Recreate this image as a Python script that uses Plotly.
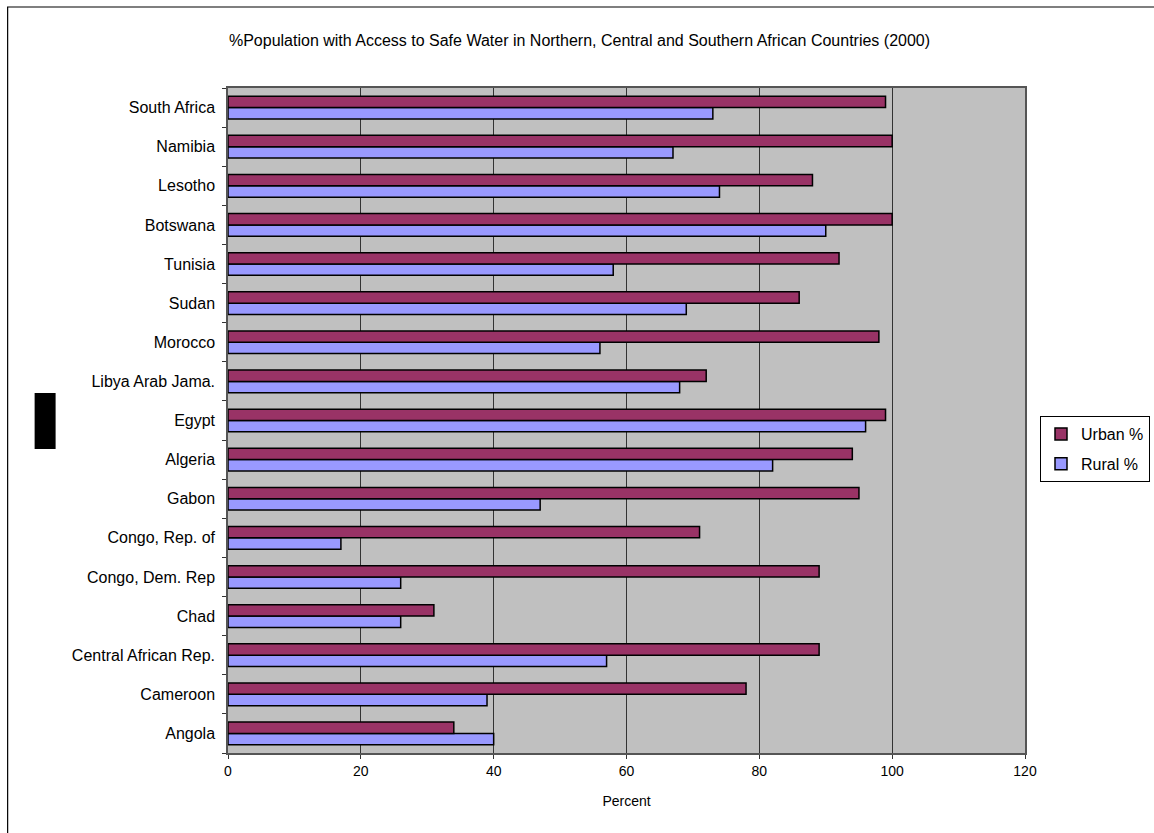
import plotly.graph_objects as go

countries = ["Angola", "Cameroon", "Central African Rep.", "Chad", "Congo, Dem. Rep",
             "Congo, Rep. of", "Gabon", "Algeria", "Egypt", "Libya Arab Jama.",
             "Morocco", "Sudan", "Tunisia", "Botswana", "Lesotho", "Namibia", "South Africa"]
urban = [34, 78, 89, 31, 89, 71, 95, 94, 99, 72, 98, 86, 92, 100, 88, 100, 99]
rural = [40, 39, 57, 26, 26, 17, 47, 82, 96, 68, 56, 69, 58, 90, 74, 67, 73]
x_ticks = [0, 20, 40, 60, 80, 100, 120]

W, H = 1154, 833
L, R, T, B = 227.5, 1025, 88, 753
pw, ph = R - L, B - T

def px(x):
    return (x - L) / pw

def py(y):
    return (B - y) / ph

FONT = "Liberation Sans, Arial, sans-serif"

fig = go.Figure()
fig.add_trace(go.Bar(y=countries, x=rural, orientation="h", name="Rural %", legendgroup="r",
                     legendrank=2,
                     marker=dict(color="#9999FF", line=dict(color="black", width=1.5))))
fig.add_trace(go.Bar(y=countries, x=urban, orientation="h", name="Urban %", legendgroup="u",
                     legendrank=1,
                     marker=dict(color="#993366", line=dict(color="black", width=1.5))))

fig.update_layout(
    width=W, height=H,
    margin=dict(l=L, r=W - R, t=T, b=H - B, pad=0, autoexpand=False),
    paper_bgcolor="white", plot_bgcolor="#C0C0C0",
    barmode="group", bargap=0.42, bargroupgap=0,
    font=dict(family=FONT, size=15, color="black"),
    title=dict(text="%Population with Access to Safe Water in Northern, Central and Southern African Countries (2000)",
               x=579.5 / W, xanchor="center", xref="container",
               y=1 - 40 / H, yanchor="middle", yref="container",
               font=dict(family=FONT, size=16, color="black")),
    legend=dict(x=1150 / W, y=1 - 416 / H, xref="container", yref="container",
                xanchor="right", yanchor="top",
                traceorder="grouped", bordercolor="black", borderwidth=1,
                bgcolor="white", font=dict(family=FONT, size=16),
                itemwidth=30, tracegroupgap=6),
    showlegend=True,
)

fig.update_xaxes(range=[0, 120], tickvals=x_ticks, ticktext=[str(v) for v in x_ticks],
                 showgrid=True, gridcolor="#333333", gridwidth=1,
                 ticks="outside", ticklen=4, tickcolor="#333333",
                 tickfont=dict(family=FONT, size=14),
                 showline=True, linecolor="#555555", linewidth=1.5, mirror=True,
                 zeroline=False, automargin=False,
                 title=dict(text="Percent", font=dict(family=FONT, size=14), standoff=19))
fig.update_yaxes(categoryorder="array", categoryarray=countries,
                 ticks="outside", ticklen=4, tickson="boundaries", tickcolor="#333333",
                 tickfont=dict(family=FONT, size=16), ticklabelstandoff=8,
                 showline=True, linecolor="#555555", linewidth=1.5, mirror=True,
                 showgrid=False, automargin=False)

fig.add_shape(type="rect", xref="paper", yref="paper",
              x0=px(7), x1=px(1170), y0=py(850), y1=py(7),
              line=dict(color="black", width=1.2), fillcolor="rgba(0,0,0,0)", layer="below")
fig.add_shape(type="rect", xref="paper", yref="paper",
              x0=px(34), x1=px(55), y0=py(449), y1=py(393),
              line=dict(width=0), fillcolor="black")

fig.write_html("out.html")
